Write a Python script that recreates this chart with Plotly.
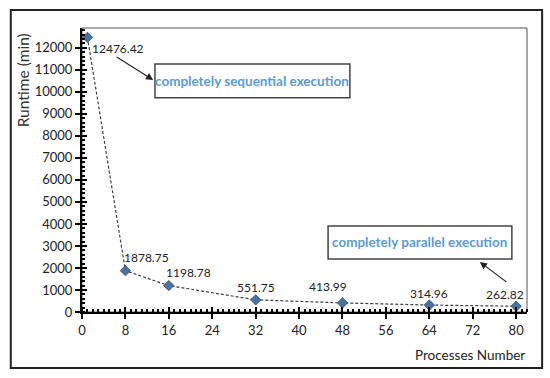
import plotly.graph_objects as go

processes = [1, 8, 16, 32, 48, 64, 80]
runtime = [12476.42, 1878.75, 1198.78, 551.75, 413.99, 314.96, 262.82]
labels = ["12476.42", "1878.75", "1198.78", "551.75", "413.99", "314.96", "262.82"]
x_ticks = [0, 8, 16, 24, 32, 40, 48, 56, 64, 72, 80]
y_ticks = list(range(0, 13000, 1000))

# label offsets (pixels) relative to each point
label_offsets = [(31, -11), (21, 13), (20, 13), (0, 12), (-14, 16), (0, 12), (-11, 12)]

FONT = "Lato, Open Sans, sans-serif"
TXT = "#222222"

fig = go.Figure()
fig.add_trace(go.Scatter(
    x=processes, y=runtime, mode="lines+markers",
    line=dict(color="#404040", width=1.2, dash="3px,2px"),
    marker=dict(symbol="diamond", size=8, color="#4a72a0",
                line=dict(color="#2f4f75", width=0.8)),
    hoverinfo="skip", showlegend=False,
))
# dummy trace on overlay axes for crossing ticks
fig.add_trace(go.Scatter(x=[None], y=[None], xaxis="x2", yaxis="y2",
                         showlegend=False, hoverinfo="skip"))

annotations = []
for xv, yv, lab, (dx, dy) in zip(processes, runtime, labels, label_offsets):
    annotations.append(dict(x=xv, y=yv, text=lab, showarrow=False,
                            xanchor="center", yanchor="middle",
                            xshift=dx, yshift=dy,
                            font=dict(family=FONT, size=12, color=TXT)))

# axis titles
annotations.append(dict(xref="paper", yref="paper", x=-0.133, y=0.815,
                        xanchor="center", yanchor="middle",
                        text="Runtime (min)", textangle=-90, showarrow=False,
                        font=dict(family=FONT, size=15.5, color="#333333")))
annotations.append(dict(xref="paper", yref="paper", x=1.0, y=-0.151,
                        xanchor="right", yanchor="middle",
                        text="Processes Number", showarrow=False,
                        font=dict(family=FONT, size=13.5, color=TXT)))

# callout texts
annotations.append(dict(xref="paper", yref="paper", x=0.383, y=0.813,
                        xanchor="center", yanchor="middle",
                        text="<b>completely sequential execution</b>", showarrow=False,
                        font=dict(family=FONT, size=13.5, color="#5b9bd5")))
annotations.append(dict(xref="paper", yref="paper", x=0.7595, y=0.245,
                        xanchor="center", yanchor="middle",
                        text="<b>completely parallel execution</b>", showarrow=False,
                        font=dict(family=FONT, size=13.5, color="#5b9bd5")))
# arrows
annotations.append(dict(xref="paper", yref="paper", x=0.160, y=0.817, text="",
                        showarrow=True, ax=-38, ay=-24, arrowhead=2, arrowsize=1.2,
                        arrowwidth=1.2, arrowcolor=TXT))
annotations.append(dict(xref="paper", yref="paper", x=0.894, y=0.176, text="",
                        showarrow=True, ax=28, ay=21, arrowhead=2, arrowsize=1.2,
                        arrowwidth=1.2, arrowcolor=TXT))

shapes = [
    # outer frame
    dict(type="rect", xref="paper", yref="paper", x0=-0.16, x1=1.034, y0=-0.197, y1=1.063,
         line=dict(color="#222222", width=2)),
    # plot area border
    dict(type="rect", xref="paper", yref="paper", x0=0, x1=1, y0=0, y1=1,
         line=dict(color="#555555", width=1), layer="below"),
    # callout boxes
    dict(type="rect", xref="paper", yref="paper", x0=0.164, x1=0.602, y0=0.754, y1=0.873,
         line=dict(color="#444444", width=1.5), fillcolor="white", layer="below"),
    dict(type="rect", xref="paper", yref="paper", x0=0.553, x1=0.966, y0=0.187, y1=0.303,
         line=dict(color="#444444", width=1.5), fillcolor="white", layer="below"),
]

fig.update_layout(
    width=550, height=378,
    margin=dict(l=82, r=23, t=28, b=66),
    paper_bgcolor="white", plot_bgcolor="rgba(0,0,0,0)",
    font=dict(family=FONT, size=13, color=TXT),
    xaxis=dict(range=[0, 82], tickvals=x_ticks, ticks="outside", ticklen=5,
               tickwidth=1.5, tickcolor="black", showline=True, linecolor="black",
               linewidth=2, showgrid=False, zeroline=False, tickformat="d",
               minor=dict(dtick=1, ticks="inside", ticklen=3, tickcolor="black", showgrid=False),
               tickfont=dict(family=FONT, size=13, color=TXT)),
    yaxis=dict(range=[0, 12900], tickvals=y_ticks, ticks="outside", ticklen=5,
               tickwidth=1.5, tickcolor="black", showline=True, linecolor="black",
               linewidth=2, showgrid=False, zeroline=False, tickformat="d",
               minor=dict(dtick=200, ticks="inside", ticklen=3, tickcolor="black", showgrid=False),
               tickfont=dict(family=FONT, size=13, color=TXT)),
    xaxis2=dict(range=[0, 82], overlaying="x", tickvals=x_ticks, ticks="inside",
                ticklen=5, tickwidth=1.5, tickcolor="black", showticklabels=False,
                showgrid=False, zeroline=False, showline=False),
    yaxis2=dict(range=[0, 12900], overlaying="y", tickvals=y_ticks, ticks="inside",
                ticklen=5, tickwidth=1.5, tickcolor="black", showticklabels=False,
                showgrid=False, zeroline=False, showline=False),
    annotations=annotations,
    shapes=shapes,
)

fig.write_html("out.html", config={"displayModeBar": False},
               post_script="document.body.style.margin='0px';")
